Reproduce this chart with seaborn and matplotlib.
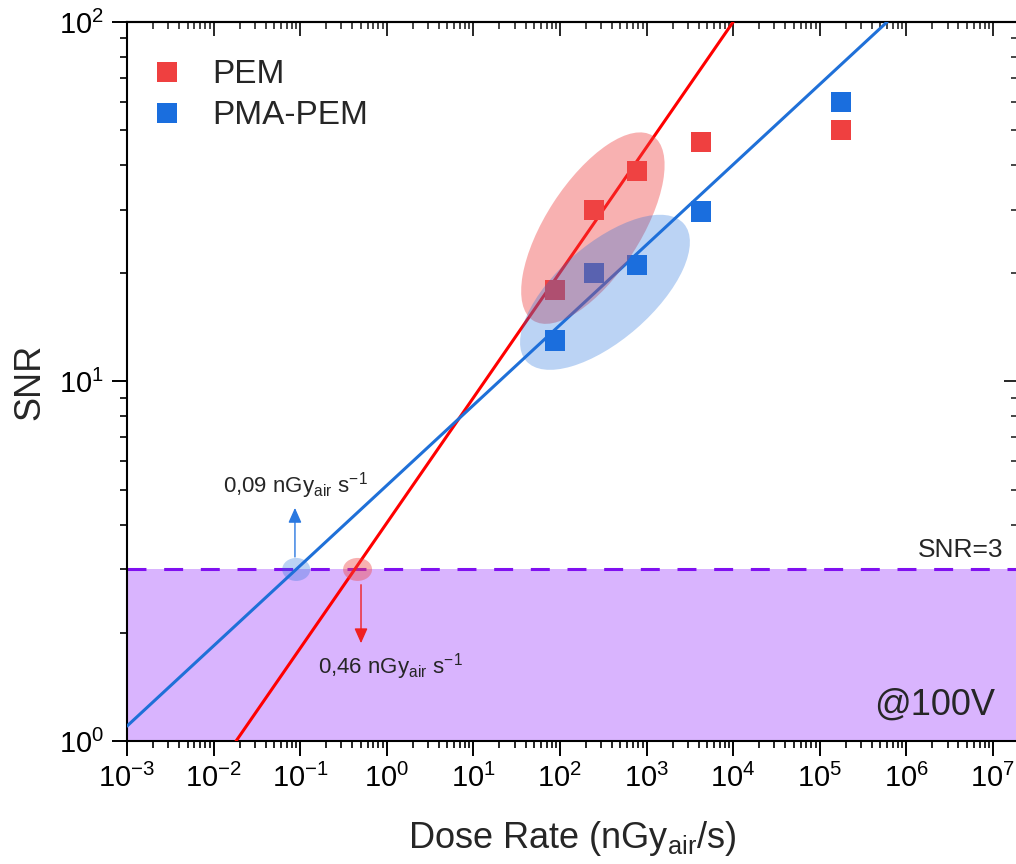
import numpy as np
import pandas as pd
import matplotlib
matplotlib.use('Agg')
import matplotlib.pyplot as plt
import seaborn as sns
from matplotlib.patches import Ellipse
from matplotlib.transforms import ScaledTranslation
from matplotlib.ticker import LogLocator, NullFormatter
from matplotlib.lines import Line2D

# ---------------- data ----------------
samples = ['PEM', 'PMA-PEM']
dose_rate = [87.5, 250, 782, 4300, 174000]          # nGy_air/s
snr_pem = [18.0, 30.0, 38.6, 46.4, 50.1]
snr_pma = [13.0, 20.0, 21.1, 29.7, 60.0]

# linear fits (log-log), endpoints
pem_fit_x = [0.0182, 1.0e4]
pem_fit_y = [1.0, 100.0]
pma_fit_x = [1.0e-3, 6.0e5]
pma_fit_y = [1.10, 100.0]

snr_threshold = 3
lod_pem = 0.46
lod_pma = 0.09

x_ticks = [1e-3, 1e-2, 1e-1, 1e0, 1e1, 1e2, 1e3, 1e4, 1e5, 1e6, 1e7]
y_ticks = [1, 10, 100]

# ---------------- style ----------------
sns.set_theme(style='ticks')
plt.rcParams['font.family'] = ['Liberation Sans', 'DejaVu Sans']
plt.rcParams.update({
    'mathtext.fontset': 'custom',
    'mathtext.rm': 'Liberation Sans',
    'mathtext.it': 'Liberation Sans',
    'mathtext.sf': 'Liberation Sans',
    'mathtext.bf': 'Liberation Sans:bold',
    'mathtext.default': 'regular',
})

red_marker = '#EF4040'
blue_marker = '#1A6EDE'
red_line = '#FF0000'
blue_line = '#1F70D8'
fill_color = '#D9B4FE'
dash_color = '#8010F0'

fig = plt.figure(figsize=(10.16, 8.64), dpi=100)
ax = fig.add_axes([0.125, 0.1424, 0.877, 0.8322])
ax.set_xscale('log')
ax.set_yscale('log')
ax.set_xlim(1e-3, 1.95e7)
ax.set_ylim(1, 100)

df = pd.DataFrame({
    'Dose': dose_rate + dose_rate,
    'SNR': snr_pem + snr_pma,
    'Sample': [samples[0]] * len(dose_rate) + [samples[1]] * len(dose_rate),
})
palette = {samples[0]: red_marker, samples[1]: blue_marker}

# threshold region
ax.axhspan(1, snr_threshold, color=fill_color, lw=0, zorder=0.5)
ax.axhline(snr_threshold, color=dash_color, lw=2.2, dashes=(6.2, 5.8), zorder=2)

# fit lines
sns.lineplot(x=pem_fit_x, y=pem_fit_y, color=red_line, lw=2.2, ax=ax, zorder=3)
sns.lineplot(x=pma_fit_x, y=pma_fit_y, color=blue_line, lw=2.2, ax=ax, zorder=3)

# data points
sns.scatterplot(data=df, x='Dose', y='SNR', hue='Sample', palette=palette,
                marker='s', s=210, linewidth=0, ax=ax, legend=False, zorder=4)

ax.set_xlim(1e-3, 1.95e7)
ax.set_ylim(1, 100)


def add_ellipse(cx, cy, w_px, h_px, angle, color, alpha):
    tr = fig.dpi_scale_trans + ScaledTranslation(cx, cy, ax.transData)
    e = Ellipse((0, 0), w_px / fig.dpi, h_px / fig.dpi, angle=angle,
                transform=tr, facecolor=color, edgecolor='none', alpha=alpha,
                zorder=5)
    ax.add_patch(e)


add_ellipse(240, 26.7, 220, 94, 57, '#F04646', 0.42)
add_ellipse(331, 17.7, 209, 96, 41, '#1E6EDC', 0.30)
add_ellipse(lod_pma, snr_threshold, 28, 23, 0, '#1E6EDC', 0.30)
add_ellipse(lod_pem, snr_threshold, 29, 23, 0, '#F04646', 0.42)

# arrows
ax.annotate('', xy=(0.087, 4.45), xytext=(0.087, 3.25),
            arrowprops=dict(arrowstyle='-|>,head_length=0.45,head_width=0.2',
                            color='#2A78E0', lw=1.0, shrinkA=0, shrinkB=0,
                            mutation_scale=20), zorder=6)
ax.annotate('', xy=(0.504, 1.87), xytext=(0.504, 2.72),
            arrowprops=dict(arrowstyle='-|>,head_length=0.45,head_width=0.2',
                            color='#F02020', lw=1.0, shrinkA=0, shrinkB=0,
                            mutation_scale=20), zorder=6)

fmt = lambda v: f'{v:.2f}'.replace('.', ',')
ax.text(0.01285, 4.90, fmt(lod_pma) + r' nGy$_{air}$ s$^{-1}$', fontsize=16,
        ha='left', va='baseline', zorder=7)
ax.text(0.1607, 1.545, fmt(lod_pem) + r' nGy$_{air}$ s$^{-1}$', fontsize=16,
        ha='left', va='baseline', zorder=7)

ax.text(0.983, 0.256, f'SNR={snr_threshold}', transform=ax.transAxes,
        ha='right', va='baseline', fontsize=19, zorder=7)
ax.text(0.974, 0.036, '@100V', transform=ax.transAxes,
        ha='right', va='baseline', fontsize=26, zorder=7)

# axes labels
ax.set_xlabel(r'Dose Rate (nGy$_{air}$/s)', fontsize=26, labelpad=19)
ax.set_ylabel('SNR', fontsize=26, labelpad=8)

# ticks
for axis in (ax.xaxis, ax.yaxis):
    axis.set_major_locator(LogLocator(base=10, numticks=30))
    axis.set_minor_locator(LogLocator(base=10, subs=np.arange(2, 10), numticks=300))
    axis.set_minor_formatter(NullFormatter())
ax.set_xticks(x_ticks)
ax.set_yticks(y_ticks)
ax.set_xlim(1e-3, 1.95e7)
ax.set_ylim(1, 100)
ax.tick_params(which='major', direction='out', length=10.5, width=1.4,
               labelsize=21, pad=6, colors='black')
ax.tick_params(which='minor', direction='out', length=5, width=1.2, colors='black')
for s in ax.spines.values():
    s.set_linewidth(1.5)
    s.set_color('black')

secx = ax.secondary_xaxis('top')
secx.set_xscale('log')
secy = ax.secondary_yaxis('right')
secy.set_yscale('log')
for sec, axis in ((secx, secx.xaxis), (secy, secy.yaxis)):
    axis.set_major_locator(LogLocator(base=10, numticks=30))
    axis.set_minor_locator(LogLocator(base=10, subs=np.arange(2, 10), numticks=300))
    axis.set_minor_formatter(NullFormatter())
    sec.tick_params(which='major', direction='in', length=10, width=1.4,
                    labeltop=False, labelright=False, labelbottom=False, labelleft=False)
    sec.tick_params(which='minor', direction='in', length=5, width=1.2)
    for s in sec.spines.values():
        s.set_linewidth(1.5)
        s.set_color('black')

# legend
handles = [Line2D([], [], ls='none', marker='s', markersize=14.5,
                  markerfacecolor=palette[k], markeredgewidth=0) for k in samples]
ax.legend(handles, samples, loc='upper left', bbox_to_anchor=(0.0264, 0.948),
          frameon=False, fontsize=24, handlelength=1.0, handletextpad=0.85,
          borderpad=0, borderaxespad=0, labelspacing=0.30)

fig.savefig('out.png', dpi=100)
